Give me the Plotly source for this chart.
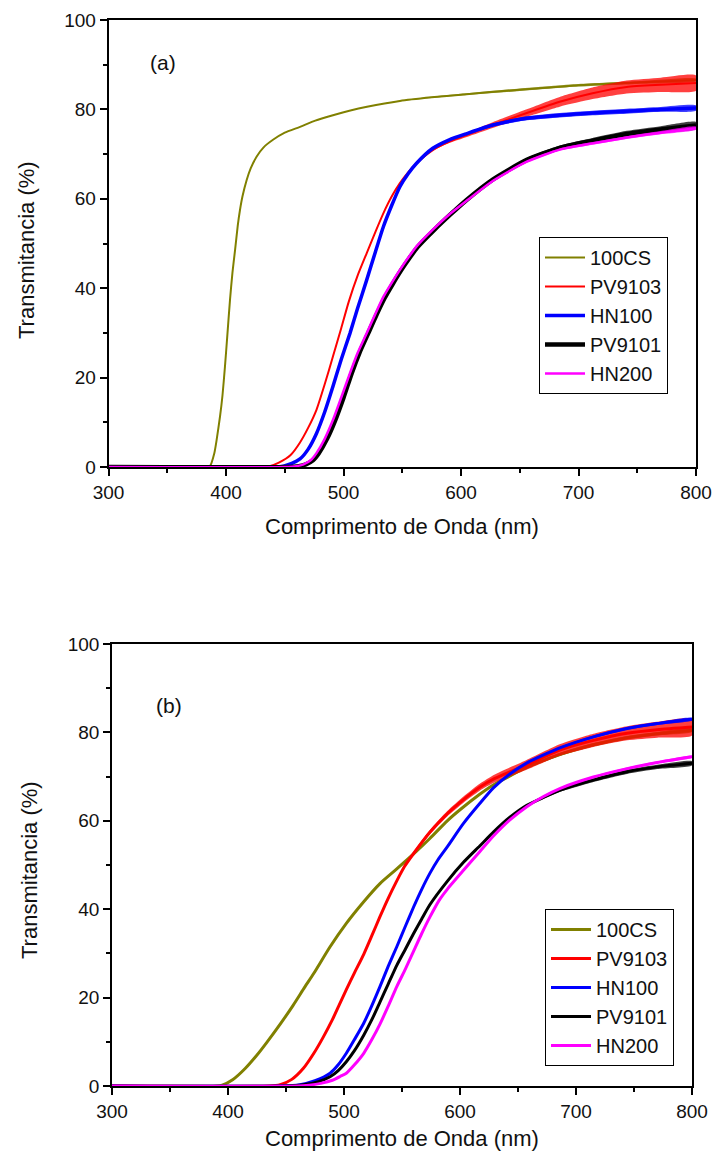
import plotly.graph_objects as go

# ---------------- Panel (a) data ----------------
lam_cs_a = [300, 383, 386.4, 390, 392, 394.9, 397, 399.1, 401, 403.4, 405.5, 407.7, 410, 411.9, 414, 417.6, 421, 426, 432, 440,
            450, 463, 476, 491, 505, 520, 548, 575, 600, 650, 700, 750, 800]
t_cs_a = [0, 0, 0.2, 3, 6, 11.3, 16, 22.4, 29, 37.4, 43.5, 48.5, 54, 57.5, 60.5, 64.2, 66.8, 69.4, 71.5, 73.2,
          74.8, 76.1, 77.5, 78.7, 79.7, 80.6, 81.9, 82.7, 83.3, 84.4, 85.4, 86, 86.6]
amp_cs_a = [0] * 26 + [0.1, 0.15, 0.2, 0.3, 0.3, 0.3, 0.3]

lam_pv3_a = [300, 430, 437, 445, 455, 463, 470, 477, 484, 491, 498, 504.5, 512, 519.7, 527, 534, 541, 548, 555, 562,
             576, 590, 605, 627, 656, 684, 712, 741, 770, 800]
t_pv3_a = [0, 0, 0.2, 1, 2.7, 5.5, 8.8, 12.8, 18.5, 24.7, 31, 37, 42.8, 47.8, 52.5, 56.8, 60.5, 63.5, 65.9, 67.9,
           70.9, 72.8, 74.3, 76.5, 79.2, 81.7, 83.6, 85, 85.5, 85.9]
amp_pv3_a = [0] * 20 + [0.15, 0.3, 0.45, 0.65, 0.85, 1.1, 1.3, 1.45, 1.6, 1.7]

lam_hn1_a = [300, 440, 448.8, 456, 463, 470, 477, 484, 491, 498, 505.5, 512, 519.7, 527, 534, 541, 548, 555, 562, 576,
             590, 605, 627, 656, 684, 712, 741, 770, 800]
t_hn1_a = [0, 0, 0.2, 0.8, 1.8, 4, 7.5, 12.3, 18, 24, 29.9, 35.5, 41.8, 48, 53.8, 58.5, 62.7, 65.6, 67.9, 71.3,
           73.2, 74.6, 76.5, 78, 78.7, 79.2, 79.6, 80, 80.3]
amp_hn1_a = [0] * 21 + [0.2, 0.35, 0.45, 0.5, 0.5, 0.55, 0.55, 0.6]

lam_pv1_a = [300, 452, 462, 468, 474, 479, 486, 493, 500, 507, 513.5, 521, 528, 535, 542, 549, 556, 563, 577, 591,
             605, 627, 656, 684, 712, 741, 770, 800]
t_pv1_a = [0, 0, 0.2, 0.6, 1.5, 3.1, 6.3, 10.5, 15.5, 21, 25.5, 29.9, 34, 37.8, 41, 44, 46.7, 49.2, 53, 56.5,
           59.8, 64.3, 68.7, 71.4, 73, 74.5, 75.5, 76.4]
amp_pv1_a = [0] * 21 + [0.3, 0.4, 0.5, 0.6, 0.7, 0.75, 0.8]

lam_hn2_a = [300, 450, 460, 466, 472, 477, 484, 491, 498, 505.5, 512, 519.7, 527, 534, 541, 548, 555, 562, 576, 590,
             605, 627, 656, 684, 712, 741, 770, 800]
t_hn2_a = [0, 0, 0.2, 0.6, 1.5, 3.1, 6.3, 10.5, 15.5, 21, 25.5, 29.9, 34.2, 38.1, 41.2, 44.1, 46.8, 49.3, 53.1, 56.5,
           59.6, 64, 68.3, 71, 72.4, 73.7, 74.8, 75.8]
amp_hn2_a = [0] * 21 + [0.15, 0.2, 0.25, 0.3, 0.3, 0.35, 0.35]

# ---------------- Panel (b) data ----------------
lam_cs_b = [300, 390, 395, 404, 415, 425, 433, 445, 456, 466, 474, 488, 502, 517, 531, 545, 560, 574, 589, 600,
            617, 628, 657, 686, 715, 744, 770, 800]
t_cs_b = [0, 0, 0.2, 1.4, 4, 7, 9.7, 14, 18.2, 22.3, 25.5, 31.5, 36.8, 41.7, 45.8, 49, 52.5, 56, 60, 62.5,
          66, 68, 72, 75, 77.2, 78.8, 79.7, 80.5]
amp_cs_b = [0] * 20 + [0.2, 0.25, 0.3, 0.35, 0.4, 0.4, 0.4, 0.4]

lam_pv3_b = [300, 435, 445, 455, 465, 474, 482, 490, 496, 502, 509, 517, 524, 531, 538, 545.5, 552, 560, 574, 589,
             603, 617, 630, 657, 686, 715, 744, 770, 800]
t_pv3_b = [0, 0, 0.3, 1.5, 4, 7.4, 11, 15, 18.4, 21.8, 25.6, 29.8, 34, 38.3, 42.4, 46.4, 49.6, 52.6, 57.4, 61.6,
           64.8, 67.6, 69.6, 72.6, 76, 78.2, 79.8, 80.6, 81.2]
amp_pv3_b = [0] * 16 + [0.3, 0.4, 0.5, 0.6, 0.7, 0.8, 0.9, 1.1, 1.3, 1.5, 1.6, 1.8, 1.9]

lam_hn1_b = [300, 445, 462, 475, 488, 495, 502, 509, 517, 524, 531, 538, 545.5, 553, 560, 567, 574, 581, 589, 603,
             617, 629, 643, 657, 686, 715, 744, 770, 800]
t_hn1_b = [0, 0, 0.3, 1.2, 2.9, 4.8, 7.4, 10.5, 14.2, 18.2, 22.5, 27, 31.5, 36.2, 40.5, 44.5, 48.1, 51.2, 54.1, 59.4,
           63.9, 67.5, 70.6, 73, 76.5, 79, 80.9, 82, 83]
amp_hn1_b = [0] * 24 + [0.2, 0.3, 0.3, 0.3, 0.3]

lam_pv1_b = [300, 450, 465, 478, 488, 495, 502, 509, 517, 524, 531, 538, 545.5, 553, 560, 567, 574, 589, 603, 617,
             629, 643, 657.6, 672, 686, 715, 744, 770, 800]
t_pv1_b = [0, 0, 0.3, 1, 2.1, 3.5, 5.5, 8, 11.5, 15, 19, 23, 27.3, 31, 34.5, 37.8, 41, 46.3, 50.6, 54.3,
           57.5, 60.8, 63.5, 65.3, 66.9, 69.2, 71.1, 72.2, 73]
amp_pv1_b = [0] * 22 + [0.2, 0.3, 0.35, 0.4, 0.5, 0.5, 0.5]

lam_hn2_b = [300, 460, 470, 480, 490, 497, 502, 509, 517, 524, 531, 538, 545.5, 553, 560, 567, 574, 582, 589, 603,
             617, 629, 643, 657.6, 672, 686, 715, 744, 770, 800]
t_hn2_b = [0, 0, 0.2, 0.6, 1.3, 2.2, 2.9, 4.8, 7.4, 10.5, 14, 18, 22.5, 26.5, 30.5, 34.5, 38.2, 42, 44.5, 48.8,
           53, 56.6, 60.2, 63.2, 65.5, 67.3, 69.9, 71.8, 73.2, 74.5]
amp_hn2_b = [0] * 26 + [0.2, 0.25, 0.25, 0.25]

names = ["100CS", "PV9103", "HN100", "PV9101", "HN200"]
colors = ["#808000", "#FF0000", "#0000FF", "#000000", "#FF00FF"]
fills = ["rgba(128,128,0,0.75)", "rgba(255,0,0,0.75)", "rgba(0,0,255,0.75)", "rgba(0,0,0,0.75)", "rgba(255,0,255,0.75)"]
widths_a = [2, 2, 3.5, 4.5, 2.5]
widths_b = [3, 3, 3, 3, 3]

panel_a = [(lam_cs_a, t_cs_a, amp_cs_a), (lam_pv3_a, t_pv3_a, amp_pv3_a), (lam_hn1_a, t_hn1_a, amp_hn1_a),
           (lam_pv1_a, t_pv1_a, amp_pv1_a), (lam_hn2_a, t_hn2_a, amp_hn2_a)]
panel_b = [(lam_cs_b, t_cs_b, amp_cs_b), (lam_pv3_b, t_pv3_b, amp_pv3_b), (lam_hn1_b, t_hn1_b, amp_hn1_b),
           (lam_pv1_b, t_pv1_b, amp_pv1_b), (lam_hn2_b, t_hn2_b, amp_hn2_b)]

FONT = "Arial, Liberation Sans, sans-serif"
fig = go.Figure()


def add_panel(series, widths, xa, ya, legend):
    for i, (lam, t, amp) in enumerate(series):
        up = [v + a for v, a in zip(t, amp)]
        lo = [v - a for v, a in zip(t, amp)]
        fig.add_trace(go.Scatter(x=list(lam) + list(lam)[::-1], y=up + lo[::-1], mode="lines",
                                 fill="toself", fillcolor=fills[i], line=dict(width=0, shape="spline", smoothing=0.6),
                                 showlegend=False, hoverinfo="skip", xaxis=xa, yaxis=ya))
        fig.add_trace(go.Scatter(x=lam, y=t, mode="lines", name=names[i],
                                 line=dict(color=colors[i], width=widths[i], shape="spline", smoothing=0.6),
                                 xaxis=xa, yaxis=ya, legend=legend))


add_panel(panel_a, widths_a, "x", "y", "legend")
add_panel(panel_b, widths_b, "x2", "y2", "legend2")

H = 1153.0
W = 713.0


def xax(dom, anchor):
    return dict(domain=dom, anchor=anchor, range=[300, 800], tickvals=[300, 400, 500, 600, 700, 800],
                ticks="outside", ticklen=7, tickwidth=1.5, tickcolor="black", automargin=False,
                showline=True, linewidth=1.5, linecolor="black", mirror=True,
                showgrid=False, zeroline=False,
                tickfont=dict(size=19, family=FONT, color="#111"),
                minor=dict(ticks="outside", ticklen=4, tickwidth=1.5, tickcolor="black",
                           tickvals=[350, 450, 550, 650, 750], showgrid=False))


def yax(dom, anchor):
    return dict(domain=dom, anchor=anchor, range=[0, 100], tickvals=[0, 20, 40, 60, 80, 100],
                ticks="outside", ticklen=7, tickwidth=1.5, tickcolor="black", automargin=False,
                showline=True, linewidth=1.5, linecolor="black", mirror=True,
                showgrid=False, zeroline=False,
                tickfont=dict(size=19, family=FONT, color="#111"),
                minor=dict(ticks="outside", ticklen=4, tickwidth=1.5, tickcolor="black",
                           tickvals=[10, 30, 50, 70, 90], showgrid=False))


leg_common = dict(xanchor="left", yanchor="top", bordercolor="black", borderwidth=1,
                  bgcolor="white", font=dict(size=20, family=FONT, color="#111"),
                  tracegroupgap=0, itemwidth=40)

fig.update_layout(
    width=713, height=1153,
    margin=dict(l=0, r=0, t=0, b=0, autoexpand=False),
    paper_bgcolor="white", plot_bgcolor="white",
    font=dict(family=FONT, color="#111"),
    xaxis=xax([108.5 / W, 696 / W], "y"),
    yaxis=yax([1 - 467 / H, 1 - 20 / H], "x"),
    xaxis2=xax([112 / W, 692 / W], "y2"),
    yaxis2=yax([1 - 1086 / H, 1 - 644 / H], "x2"),
    legend=dict(x=539 / W, y=1 - 237 / H, **leg_common),
    legend2=dict(x=545 / W, y=1 - 909 / H, **leg_common),
    showlegend=True,
)

ann_font = dict(size=22, family=FONT, color="#111")
annotations = [
    dict(text="(a)", x=162.5 / W, y=1 - 63 / H, font=dict(size=21, family=FONT, color="#111")),
    dict(text="(b)", x=169 / W, y=1 - 705 / H, font=dict(size=21, family=FONT, color="#111")),
    dict(text="Comprimento de Onda (nm)", x=402 / W, y=1 - 526 / H, font=ann_font),
    dict(text="Comprimento de Onda (nm)", x=402 / W, y=1 - 1138 / H, font=ann_font),
    dict(text="Transmitancia (%)", x=26 / W, y=1 - 250 / H, textangle=-90, font=ann_font),
    dict(text="Transmitancia (%)", x=29 / W, y=1 - 870 / H, textangle=-90, font=ann_font),
]
for a in annotations:
    a.update(xref="paper", yref="paper", showarrow=False, xanchor="center", yanchor="middle")
fig.update_layout(annotations=annotations)

fig.write_html("out.html", config={"displayModeBar": False},
               post_script="document.body.style.margin='0';document.body.style.padding='0';"
                           "document.documentElement.style.overflow='hidden';")
